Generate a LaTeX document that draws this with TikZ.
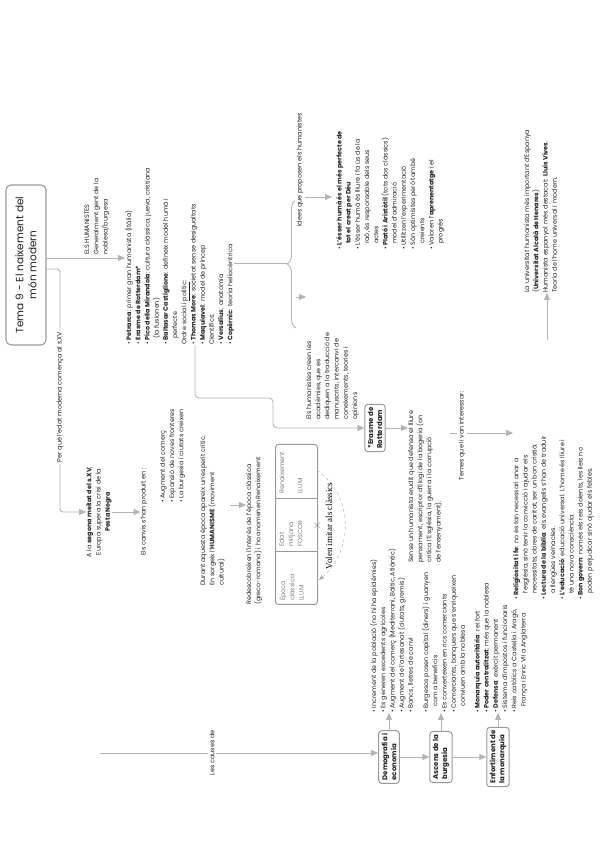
\documentclass[tikz,border=0pt]{standalone}
\usepackage{fontspec}
\setmainfont{Poppins}
\newfontfamily\serifnote{Liberation Serif}
\usetikzlibrary{arrows.meta,decorations.pathreplacing,calc}

\definecolor{lgray}{HTML}{B4B4B4}
\definecolor{bgray}{HTML}{9A9A9A}
\definecolor{ink}{HTML}{222222}

\tikzset{
  conn/.style={draw=lgray, line width=0.9pt},
  arr/.style={conn, -{Triangle[length=7pt,width=6pt]}},
  mbox/.style={draw=bgray, line width=1pt, rounded corners=3pt, fill=white,
    font=\fontsize{7}{9}\selectfont\bfseries, align=left, inner sep=3pt, text=ink},
  txt/.style={font=\fontsize{6.4}{9.2}\selectfont, align=left, inner sep=0pt, text=ink},
  onl/.style={txt, fill=white, inner sep=1.5pt},
}
\newcommand{\bu}{\textbullet\ }
\newcommand{\hb}{\hspace*{6pt}}

\begin{document}
\begin{tikzpicture}[rotate=90, transform shape, x=1pt, y=1pt]
  \useasboundingbox (0,0) rectangle (848,-600);

  % main title
  \node[mbox, font=\fontsize{10.5}{13}\selectfont, minimum width=160pt, minimum height=40pt, align=center,
        line width=1.1pt, rounded corners=5pt] (title) at (583,-26)
        {Tema 9 - El naixement del\\món modern};

  % the humanists
  \node[txt, anchor=west] (hum) at (593,-97) {ELS HUMANISTES\\Generalment gent de la\\noblesa/burgesa};
  \node[txt, anchor=north west] (humlist) at (503,-125) {%
    \bu\textbf{Petrarca}: primer gran humanista (Itàlia)\\
    \bu\textbf{Erasme de Rotterdam*}\\
    \bu\textbf{Pico della Mirandola}: cultura clàssica, jueva, cristiana\\
    \hb(la fusionen)\\
    \bu\textbf{Baltasar Castiglione}: defineix model humà i\\
    \hb perfecte\\
    Ordre social i \underline{polític}:\\
    \bu\textbf{Thomas More}: societat sense desigualtats\\
    \bu\textbf{Maquiavel}: model de príncep\\
    Científics:\\
    \bu\textbf{Versalius}: anatomia\\
    \bu\textbf{Copèrnic}: teoria heliocèntrica};
  \draw[arr] ([xshift=7pt]title.south) -- ([xshift=7pt]title.south |- humlist.north);

  % brace and what the humanists did
  \coordinate (btip) at (585,-287);
  \draw[conn] (humlist.south -| btip) -- (btip);
  \draw[conn, decorate, decoration={brace, amplitude=9pt}] (520,-296) -- (648,-296);
  \node[txt, anchor=north west] (ideas) at (598,-336) {%
    \bu\textbf{L'ésser humà és el més perfecte de}\\
    \hb\textbf{tot el creat per Déu}\\
    \bu L'ésser humà és lliure i fa ús de la\\
    \hb raó, és responsable dels seus\\
    \hb actes\\
    \bu\textbf{Plató i Aristòtil} (tots dos clàssics)\\
    \hb model d'admiració\\
    \bu Utilitzen l'experimentació\\
    \bu Són optimistes però també\\
    \hb creients\\
    \bu Valoren l'\textbf{aprenentatge} i el\\
    \hb progrés};
  \coordinate (iTop) at (651,-296);
  \draw[arr] (iTop) -- ([yshift=4pt]iTop |- ideas.north);
  \node[onl] (idees) at (678,-300) {Idees que proposen els humanistes};
  \node[txt, anchor=north west] (acad) at (428,-306) {%
    Els humanistes creen les\\acadèmies, que es\\dediquen a la traducció de\\manuscrits, intercanvi de\\coneixements, teories i\\opinions};
  \coordinate (aTop) at (551,-296);
  \draw[arr] (aTop) -- (aTop |- acad.north);

  % why the modern age starts
  \node[txt, align=center] (segona) at (336,-99)
    {A la \textbf{segona meitat del s.XV},\\Europa supera la crisi de la\\\textbf{Pesta Negra}};
  \coordinate (jP) at (336,-60);
  \draw[arr, rounded corners=3pt] ([xshift=-4pt]title.south) |- (jP) -- (segona.north);
  \node[onl] (perque) at (451,-60) {Per què l'edat moderna comença al s.XV};
  \node[txt] (canvis) at (336,-144) {Els canvis s'han produït en :};
  \draw[arr] (segona.south) -- (canvis.north);
  \node[txt, anchor=north west] (canvislist) at (345,-160) {%
    \bu Augment del comerç\\\bu Expansió de noves fronteres\\\bu La burgesia i ciutats creixen};
  \node[txt, anchor=north west] (durant) at (262,-200) {%
    Durant aquesta època apareix un esperit crític.\\
    En sorgeix l'\textbf{HUMANISME} (moviment\\cultural)};
  \node[txt, anchor=north west] (redesc) at (243,-246) {%
    Redescobreixen l'interès de l'època clàssica\\(greco-romana) i ho anomenen Renaixement};
  \coordinate (rTop) at (343,-230);
  \draw[arr] (rTop) -- (rTop |- redesc.north);

  % the three ages
  \node[draw=bgray, line width=1pt, rounded corners=3pt, minimum width=160pt, minimum height=42pt,
        anchor=north west] (ages) at (243,-275) {};
  \draw[bgray, line width=0.6pt] (297,-275) -- (297,-317) (350,-275) -- (350,-317);
  \node[txt, anchor=north west, text=gray] (antiga) at (247,-279) {Època\\clàssica\\LLUM};
  \node[txt, anchor=north west, text=gray] (mitjana) at (301,-279) {Edat\\mitjana\\FOSCOR};
  \node[txt, anchor=north west, text=gray] (renai) at (354,-279) {Renaixement\\\\LLUM};
  \draw[gray!70, dashed, -{Stealth[length=6pt]}] (378,-317) .. controls (350,-356) and (296,-352) .. (268,-319);
  \node[font=\serifnote\fontsize{9}{10}\selectfont, inner sep=1pt] (volen) at (322,-329) {Volen imitar als clàssics};
  \node[font=\bfseries\fontsize{13}{13}\selectfont, text=gray] (creu) at (322,-317) {$\times$};

  % Erasme
  \node[mbox, align=left] (erasme) at (420,-375) {*Erasme de\\Rotterdam};
  \coordinate (eS) at (503,-195);
  \coordinate (eA) at (450,-273);
  \draw[arr, rounded corners=4pt] (eS) -| (eA) -| (erasme.north);
  \node[txt, anchor=north west] (sense) at (285,-408) {%
    Sense un humanista erudit que defensa el lliure\\
    pensament, escriptor d'Elogi de la bogeria (on\\
    critica l'Església, la guerra i la corrupció\\
    de l'ensenyament).};
  \draw[arr] (erasme.south) -- (erasme.south |- sense.north);
  \node[txt, anchor=north west] (temes) at (248,-513) {%
    \bu\textbf{Religiositat i fe}: no és tan necessari anar a\\
    \hb l'església, sinó tenir la convicció i ajudar els\\
    \hb necessitats, obres de caritat, ser un bon cristià.\\
    \bu\textbf{Lectura de la bíblia}: els evangelis s'han de traduir\\
    \hb a llengües vernacles.\\
    \bu\textbf{L'educació}: educació universal. L'home és lliure i\\
    \hb té una nova consciència.\\
    \bu\textbf{Bon govern}: només els reis dolents, les lleis no\\
    \hb poden perjudicar sinó ajudar els febles.};
  \coordinate (tTop) at (415,-450);
  \draw[arr] (tTop) -- (tTop |- temes.north);
  \node[onl] (temeslbl) at (412,-462) {Temes que li van interessar:};
  \node[txt, anchor=north west] (univ) at (555,-524) {%
    La universitat humanista més important d'Espanya\\
    (\textbf{Universitat Alcalà de Henares})\\
    Humanista espanyol més destacat: \textbf{Lluís Vives}.\\
    Teoria de l'home universal i modern.};
  \coordinate (uA) at (508,-547);
  \draw[arr] (uA) -- (uA -| univ.west);

  % causes
  \node[mbox] (demo) at (91,-389) {Demografia i\\economia};
  \node[mbox] (asc) at (91,-441) {Ascens de la\\burgesia};
  \node[mbox] (enf) at (91,-498) {Enfortiment de\\la monarquia};
  \coordinate (cA) at (95,-100);
  \draw[arr] (cA) -- (cA |- demo.north);
  \node[onl] (causes) at (95,-212) {Les causes de};
  \draw[arr] (demo) -- (asc);
  \draw[arr] (asc) -- (enf);
  \node[txt, anchor=north west] (demolist) at (135,-370) {%
    \bu Increment de la població (no hi ha epidèmies)\\
    \bu Es generen excedents agrícoles\\
    \bu Augment del comerç (Mediterrani, Bàltic, Atlàntic)\\
    \bu Augment de l'artesanat (ciutats, gremis)\\
    \bu Bancs, lletres de canvi};
  \node[txt, anchor=north west] (asclist) at (135,-422) {%
    \bu Burgesos posen capital (diners) i guanyen\\
    \hb com a beneficis\\
    \bu Es converteixen en rics comerciants\\
    \bu Comerciants, banquers que s'enriqueixen\\
    \hb conviuen amb la noblesa};
  \node[txt, anchor=north west] (enflist) at (135,-474) {%
    \bu\textbf{Monarquia autoritària}: rei fort\\
    \bu\textbf{Poder centralitzat}: més que la noblesa\\
    \bu\textbf{Defensa}: exèrcit permanent\\
    \bu Sistema d'impostos i funcionaris\\
    \bu Reis catòlics a Castella i Aragó,\\
    \hb França i Enric VII a Anglaterra};
  \draw[arr] (demo.east) -- (demo.east -| demolist.west);
  \draw[arr] (asc.east) -- (asc.east -| asclist.west);
  \draw[arr] (enf.east) -- (enf.east -| enflist.west);
\end{tikzpicture}
\end{document}
